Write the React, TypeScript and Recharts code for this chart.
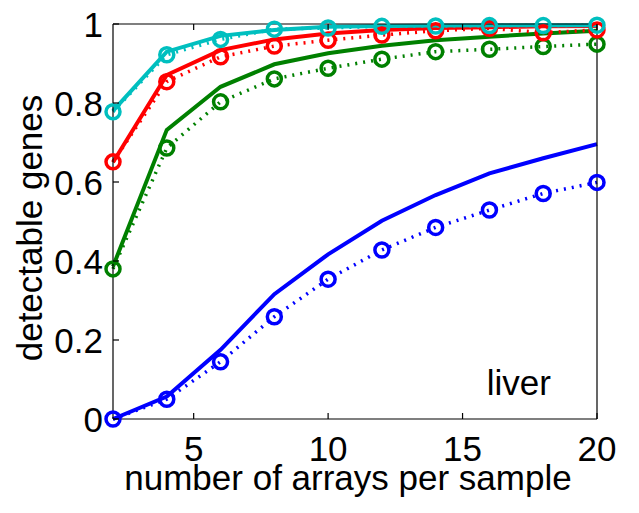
import {
    LineChart,
    Line,
    XAxis,
    YAxis,
    ReferenceDot,
} from "recharts";

const arrays = [2, 4, 6, 8, 10, 12, 14, 16, 18, 20];
const xTicks = [5, 10, 15, 20];
const yTicks = [0, 0.2, 0.4, 0.6, 0.8, 1];
const yTickLabels = ["0", "0.2", "0.4", "0.6", "0.8", "1"];

const blueSolid = [0, 0.057, 0.175, 0.316, 0.417, 0.502, 0.567, 0.622, 0.66, 0.696];
const blueDotted = [0, 0.05, 0.145, 0.259, 0.354, 0.428, 0.485, 0.529, 0.571, 0.599];
const greenSolid = [0.386, 0.732, 0.841, 0.898, 0.926, 0.945, 0.959, 0.968, 0.976, 0.983];
const greenDotted = [0.38, 0.686, 0.803, 0.861, 0.888, 0.911, 0.93, 0.936, 0.943, 0.949];
const redSolid = [0.65, 0.871, 0.934, 0.961, 0.976, 0.985, 0.99, 0.992, 0.994, 0.995];
const redDotted = [0.651, 0.854, 0.917, 0.944, 0.959, 0.972, 0.983, 0.989, 0.978, 0.985];
const cyanSolid = [0.78, 0.93, 0.97, 0.985, 0.993, 0.995, 0.996, 0.997, 0.997, 0.997];
const cyanDotted = [0.778, 0.922, 0.961, 0.987, 0.99, 0.994, 0.995, 0.996, 0.996, 0.997];

const data = arrays.map((n, i) => ({
    n,
    blueSolid: blueSolid[i],
    blueDotted: blueDotted[i],
    greenSolid: greenSolid[i],
    greenDotted: greenDotted[i],
    redSolid: redSolid[i],
    redDotted: redDotted[i],
    cyanSolid: cyanSolid[i],
    cyanDotted: cyanDotted[i],
}));

const series = [
    { key: "blue", color: "#0000ff" },
    { key: "green", color: "#008000" },
    { key: "red", color: "#ff0000" },
    { key: "cyan", color: "#00bfbf" },
];

const FONT = "'Liberation Sans', Arial, sans-serif";
const FS = 35;
const TICK = 6;

function BottomTick(props: any) {
    const { x, y, payload } = props;
    return (
        <g>
            <line x1={x} y1={y} x2={x} y2={y - TICK} stroke="#000" strokeWidth={1.2} />
            <text x={x} y={y + 42} textAnchor="middle" fontFamily={FONT} fontSize={FS} fill="#000">
                {payload.value}
            </text>
        </g>
    );
}

function TopTick(props: any) {
    const { x, y } = props;
    return <line x1={x} y1={y} x2={x} y2={y + TICK} stroke="#000" strokeWidth={1.2} />;
}

function LeftTick(props: any) {
    const { x, y, payload } = props;
    const idx = yTicks.indexOf(payload.value);
    return (
        <g>
            <line x1={x} y1={y} x2={x + TICK} y2={y} stroke="#000" strokeWidth={1.2} />
            <text x={x - 10} y={y} dy={12.5} textAnchor="end" fontFamily={FONT} fontSize={FS} fill="#000">
                {yTickLabels[idx]}
            </text>
        </g>
    );
}

function RightTick(props: any) {
    const { x, y } = props;
    return <line x1={x} y1={y} x2={x - TICK} y2={y} stroke="#000" strokeWidth={1.2} />;
}

export default function App() {
    return (
        <LineChart
            width={631}
            height={505}
            data={data}
            margin={{ top: 15, right: 41, left: 0, bottom: 0 }}
            style={{ fontFamily: FONT }}
        >
            <XAxis
                dataKey="n"
                type="number"
                domain={[2, 20]}
                ticks={xTicks}
                height={94}
                tickSize={0}
                tickMargin={0}
                tickLine={false}
                tick={<BottomTick />}
                axisLine={{ stroke: "#000", strokeWidth: 1.2 }}
                label={(p: any) => {
                    const vb = p.viewBox;
                    return (
                        <text
                            x={vb.x + vb.width / 2 - 7}
                            y={vb.y + 71}
                            textAnchor="middle"
                            fontFamily={FONT}
                            fontSize={FS}
                            fill="#000"
                        >
                            number of arrays per sample
                        </text>
                    );
                }}
            />
            <XAxis
                xAxisId="top"
                orientation="top"
                dataKey="n"
                type="number"
                domain={[2, 20]}
                ticks={xTicks}
                height={1}
                tickSize={0}
                tickMargin={0}
                tickLine={false}
                tick={<TopTick />}
                axisLine={{ stroke: "#000", strokeWidth: 1.2 }}
            />
            <YAxis
                type="number"
                domain={[0, 1]}
                ticks={yTicks}
                width={105}
                tickSize={0}
                tickMargin={0}
                tickLine={false}
                tick={<LeftTick />}
                axisLine={{ stroke: "#000", strokeWidth: 1.2 }}
                label={(p: any) => {
                    const vb = p.viewBox;
                    const cx = 34;
                    const cy = vb.y + vb.height / 2 + 6.5;
                    return (
                        <text
                            x={cx}
                            y={cy}
                            transform={`rotate(-90, ${cx}, ${cy})`}
                            textAnchor="middle"
                            fontFamily={FONT}
                            fontSize={FS}
                            fill="#000"
                        >
                            detectable genes
                        </text>
                    );
                }}
            />
            <YAxis
                yAxisId="right"
                orientation="right"
                type="number"
                domain={[0, 1]}
                ticks={yTicks}
                width={1}
                tickSize={0}
                tickMargin={0}
                tickLine={false}
                tick={<RightTick />}
                axisLine={{ stroke: "#000", strokeWidth: 1.2 }}
            />
            {series.map((s) => [
                <Line
                    key={s.key + "Solid"}
                    dataKey={s.key + "Solid"}
                    type="linear"
                    stroke={s.color}
                    strokeWidth={4}
                    dot={false}
                    isAnimationActive={false}
                />,
                <Line
                    key={s.key + "Dotted"}
                    dataKey={s.key + "Dotted"}
                    type="linear"
                    stroke={s.color}
                    strokeWidth={3.5}
                    strokeDasharray="2 6"
                    dot={{ r: 7, strokeWidth: 3.5, fill: "none", stroke: s.color, strokeDasharray: "none" }}
                    isAnimationActive={false}
                />,
            ])}
            <ReferenceDot
                x={17.09}
                y={0.092}
                r={0}
                fill="none"
                stroke="none"
                label={{ value: "liver", position: "center", fontSize: FS, fill: "#000", fontFamily: FONT }}
            />
        </LineChart>
    );
}
